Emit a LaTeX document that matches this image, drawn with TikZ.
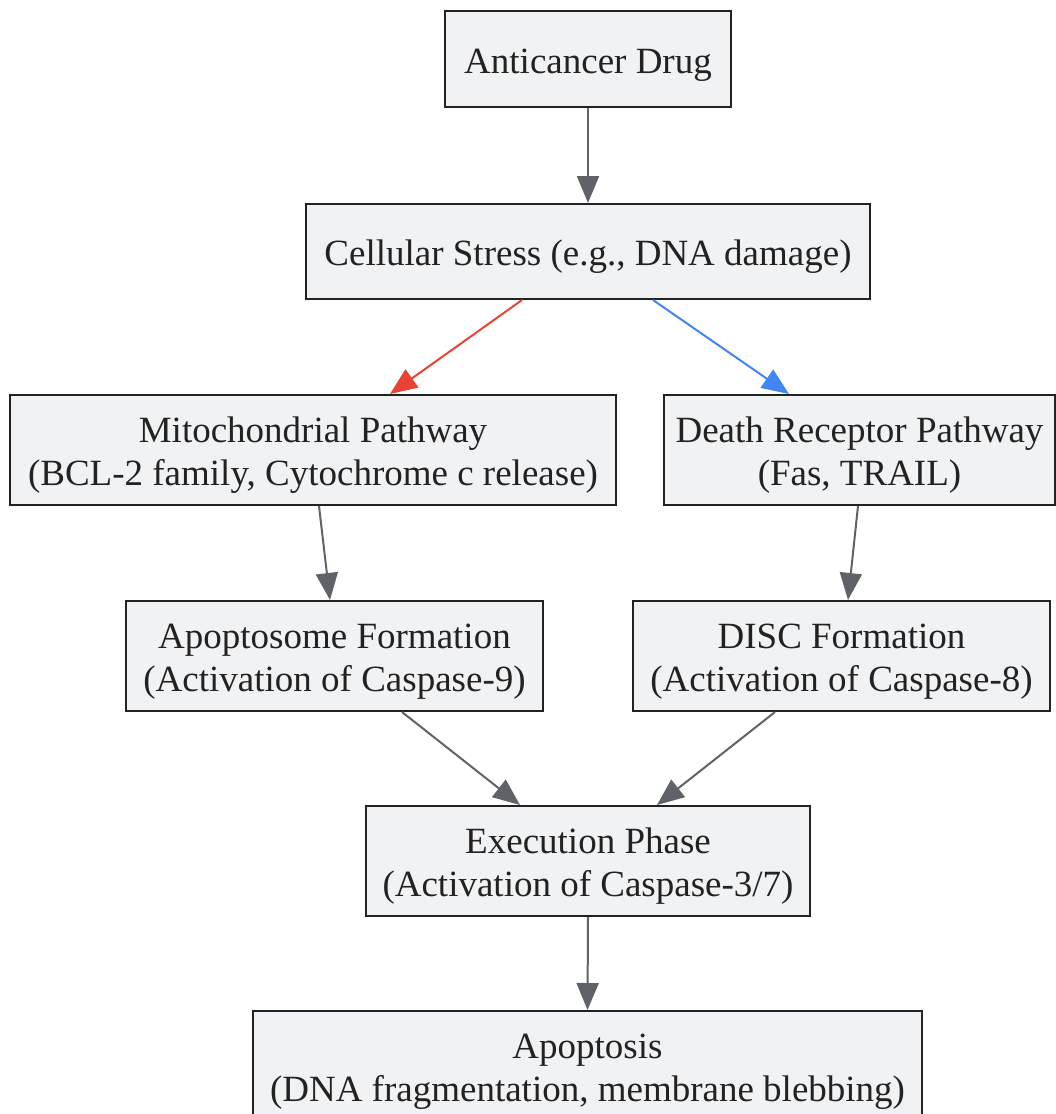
\documentclass[tikz,border=0pt]{standalone}
\usepackage{fontspec}
\setmainfont{Liberation Serif}
\usetikzlibrary{arrows.meta,positioning}

\definecolor{boxfill}{HTML}{F1F2F4}
\definecolor{boxline}{HTML}{222222}
\definecolor{linkgray}{HTML}{5F6368}
\definecolor{linkred}{HTML}{EA4335}
\definecolor{linkblue}{HTML}{4285F4}

% struts keep the text lines at fixed heights
\newcommand{\topstrut}{\rule{0pt}{36pt}}
\newcommand{\botstrut}{\rule[-8pt]{0pt}{8pt}}

\begin{document}
\begin{tikzpicture}
	% Styles
	[
	x=1pt, y=-1pt,
	stage/.style={rectangle,draw=boxline,fill=boxfill,line width=2pt,inner sep=0pt,align=center,font={\fontsize{37}{43}\selectfont},text=boxline},
	link/.style={draw=linkgray,line width=2pt,-{Triangle[length=27pt,width=22pt]}},
	]

	\useasboundingbox (0,0) rectangle (1056,1114);

	% Nodes
	\node at (588,59)	(drug)	[stage,minimum width=286pt,minimum height=96pt] {\topstrut Anticancer Drug\botstrut};
	\node at (588,251.5)	(stress)	[stage,minimum width=564pt,minimum height=95pt] {\topstrut Cellular Stress (e.g., DNA damage)\botstrut};
	\node at (313,450)	(mito)	[stage,minimum width=606pt,minimum height=110pt] {\topstrut Mitochondrial Pathway\\(BCL-2 family, Cytochrome c release)\botstrut};
	\node at (859.5,450)	(death)	[stage,minimum width=391pt,minimum height=110pt] {\topstrut Death Receptor Pathway\\(Fas, TRAIL)\botstrut};
	\node at (334.5,656)	(apopt)	[stage,minimum width=417pt,minimum height=110pt] {\topstrut Apoptosome Formation\\(Activation of Caspase-9)\botstrut};
	\node at (841.5,656)	(disc)	[stage,minimum width=417pt,minimum height=110pt] {\topstrut DISC Formation\\(Activation of Caspase-8)\botstrut};
	\node at (588,861)	(exec)	[stage,minimum width=444pt,minimum height=110pt] {\topstrut Execution Phase\\(Activation of Caspase-3/7)\botstrut};
	\node at (587.5,1066)	(death2)	[stage,minimum width=669pt,minimum height=110pt] {\topstrut Apoptosis\\(DNA fragmentation, membrane blebbing)\botstrut};

	% Connections
	\draw[link] (drug.south) -- (stress.north);
	\draw[link,draw=linkred,fill=linkred] ([xshift=-66pt]stress.south) -- ([xshift=77pt]mito.north);
	\draw[link,draw=linkblue,fill=linkblue] ([xshift=65pt]stress.south) -- ([xshift=-70.5pt]death.north);
	\draw[link] ([xshift=6pt]mito.south) -- ([xshift=-4.5pt]apopt.north);
	\draw[link] ([xshift=-1.5pt]death.south) -- ([xshift=6.5pt]disc.north);
	\draw[link] ([xshift=67.5pt]apopt.south) -- ([xshift=-68pt]exec.north);
	\draw[link] ([xshift=-66.5pt]disc.south) -- ([xshift=69pt]exec.north);
	\draw[link] (exec.south) -- (death2.north);

\end{tikzpicture}
\end{document}
